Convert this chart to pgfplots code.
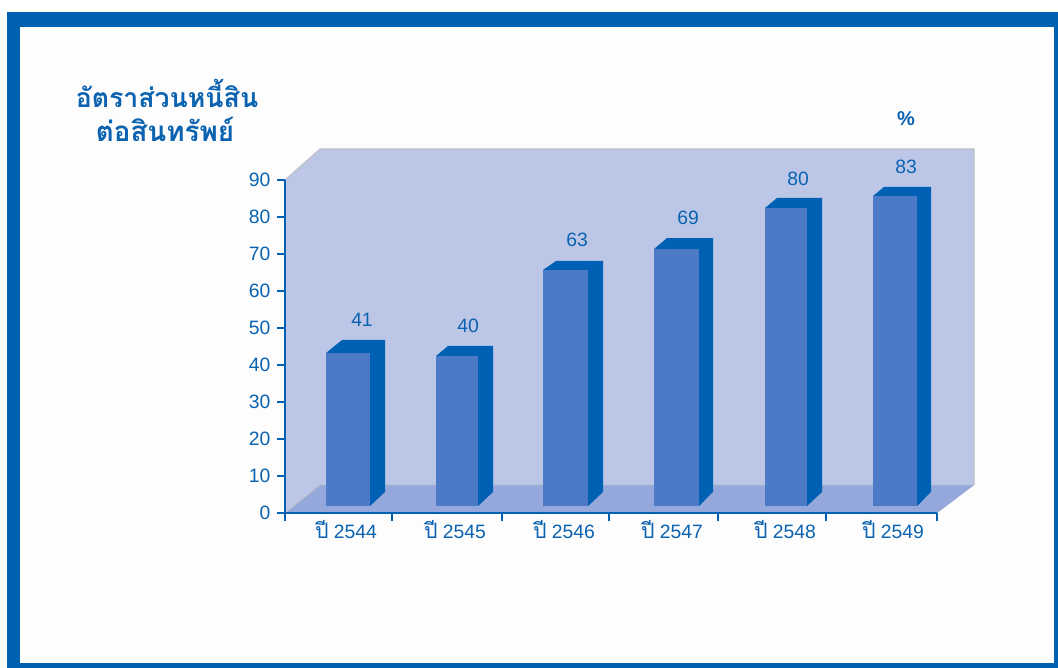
\documentclass[border=0pt]{standalone}
\usepackage{fontspec}
\usepackage{pgfplots}
\pgfplotsset{compat=1.18}
\setmainfont{Liberation Sans}
\newfontfamily\thaifont[Script=Thai]{Loma}
\definecolor{frameblue}{RGB}{0,96,178}
\definecolor{textblue}{RGB}{10,98,176}
\definecolor{wall}{RGB}{188,199,232}
\definecolor{floorblue}{RGB}{148,168,220}
\definecolor{barfront}{RGB}{76,122,198}
\definecolor{barside}{RGB}{0,96,180}
\definecolor{edge}{RGB}{190,190,198}
\definecolor{paper}{RGB}{253,253,253}
\newcommand{\pii}{{\thaifont\fontsize{16}{18}\selectfont ปี}}
\begin{document}
\begin{tikzpicture}[x=0.75pt,y=0.75pt]
% picture in reference pixels, y up from the bottom edge
\path[use as bounding box,fill=white] (0,0) rectangle (1058,668);
\fill[frameblue] (7,0) rectangle (1058,656);
\fill[paper] (20,5) rectangle (1054,641);
\node[font=\thaifont\bfseries\fontsize{20}{24}\selectfont,text=textblue,align=center] at (167,575) {อัตราส่วนหนี้สิน};
\node[font=\thaifont\bfseries\fontsize{20.8}{24}\selectfont,text=textblue,align=center] at (165,539) {ต่อสินทรัพย์};
\node[font=\bfseries\fontsize{15}{18}\selectfont,text=textblue] at (906,549) {\%};
\begin{axis}[
    at={(213.75pt,116.25pt)},anchor=south west,
    scale only axis,width=489pt,height=249.75pt,
    xmin=285,xmax=937,ymin=0,ymax=90,
    clip=false,axis on top,
    axis x line*=bottom,axis y line*=left,
    axis line style={draw=frameblue,line width=1.5pt,-},
    tick style={draw=frameblue,line width=1.2pt},
    major tick length=6pt,tick align=outside,
    xtick={285,392,502,609,718,826,937},xticklabels={},
    ytick={0,10,...,90},
    extra x ticks={346,455,564,672,785,893},
    extra x tick labels={\pii{} 2544,\pii{} 2545,\pii{} 2546,\pii{} 2547,\pii{} 2548,\pii{} 2549},
    extra x tick style={major tick length=0pt},
    tick label style={font=\fontsize{14.5}{17}\selectfont,text=textblue},
    xticklabel style={yshift=-2pt},
    yticklabel style={xshift=-1.5pt},
    /pgf/number format/assume math mode=true,
]
% walls and floor
\addplot[fill=wall,draw=none] coordinates {(285,0) (285,90) (320,98.38) (974,98.38) (974,7.57) (937,0)} -- cycle;
\addplot[edge,line width=0.8pt] coordinates {(285,90) (320,98.38) (974,98.38) (974,7.57)};
\addplot[fill=floorblue,draw=none] coordinates {(285,0) (320,7.57) (974,7.57) (937,0)} -- cycle;
\addplot[edge,line width=0.6pt] coordinates {(285,0) (320,7.57) (974,7.57)};
% bar 2544
\addplot[fill=barside,draw=none] coordinates {(326,43.24) (342,46.76) (385,46.76) (385,5.68) (370,1.89) (370,43.24)} -- cycle;
\addplot[fill=barfront,draw=none] coordinates {(326,1.89) (370,1.89) (370,43.24) (326,43.24)} -- cycle;
% bar 2545
\addplot[fill=barside,draw=none] coordinates {(436,42.43) (448,45.14) (493,45.14) (493,5.68) (478,1.89) (478,42.43)} -- cycle;
\addplot[fill=barfront,draw=none] coordinates {(436,1.89) (478,1.89) (478,42.43) (436,42.43)} -- cycle;
% bar 2546
\addplot[fill=barside,draw=none] coordinates {(543,65.68) (556,68.11) (603,68.11) (603,5.68) (588,1.89) (588,65.68)} -- cycle;
\addplot[fill=barfront,draw=none] coordinates {(543,1.89) (588,1.89) (588,65.68) (543,65.68)} -- cycle;
% bar 2547
\addplot[fill=barside,draw=none] coordinates {(654,71.35) (667,74.32) (713,74.32) (713,5.68) (699,1.89) (699,71.35)} -- cycle;
\addplot[fill=barfront,draw=none] coordinates {(654,1.89) (699,1.89) (699,71.35) (654,71.35)} -- cycle;
% bar 2548
\addplot[fill=barside,draw=none] coordinates {(765,82.43) (777,85.14) (822,85.14) (822,5.68) (807,1.89) (807,82.43)} -- cycle;
\addplot[fill=barfront,draw=none] coordinates {(765,1.89) (807,1.89) (807,82.43) (765,82.43)} -- cycle;
% bar 2549
\addplot[fill=barside,draw=none] coordinates {(873,85.68) (884,88.11) (931,88.11) (931,5.68) (917,1.89) (917,85.68)} -- cycle;
\addplot[fill=barfront,draw=none] coordinates {(873,1.89) (917,1.89) (917,85.68) (873,85.68)} -- cycle;
% value labels
\addplot[draw=none,nodes near coords,point meta=explicit,
    every node near coord/.append style={anchor=center,font=\fontsize{14.5}{17}\selectfont,text=textblue}]
  coordinates {(362,52.16)[41] (468,50.54)[40] (577,73.78)[63] (688,79.73)[69] (798,90.27)[80] (906,93.51)[83]};
\end{axis}
\end{tikzpicture}
\end{document}
